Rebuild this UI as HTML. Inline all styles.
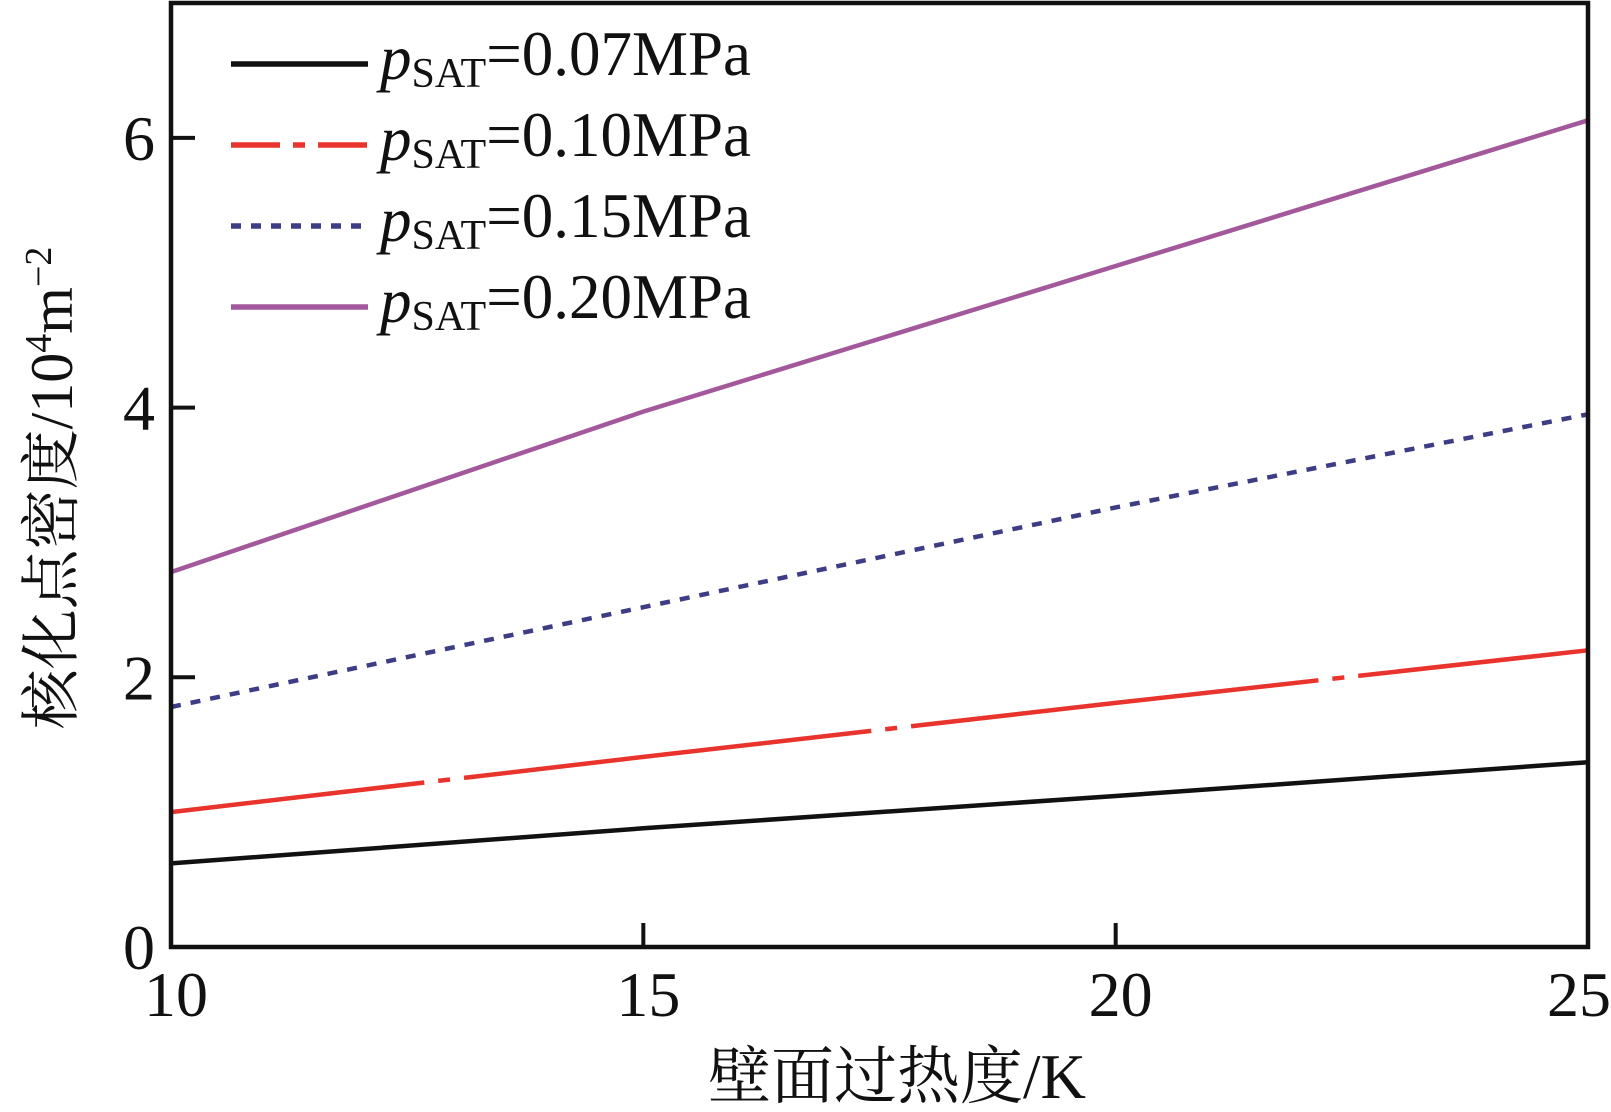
<!DOCTYPE html>
<html><head><meta charset="utf-8"><style>
html,body{margin:0;padding:0;background:#fff;}
svg{display:block;font-family:"Liberation Serif","Noto Serif CJK SC",serif;}
</style></head><body>
<svg id="chart" width="1611" height="1112" viewBox="0 0 1611 1112">
<g id="plot"></g>
</svg>
<script>
const categories = [10, 15, 20, 25];
const series007 = [0.62, 0.88, 1.12, 1.37];
const series010 = [1.0, 1.41, 1.81, 2.2];
const series015 = [1.78, 2.52, 3.26, 3.95];
const series020 = [2.78, 3.97, 5.05, 6.13];
const xTicks = [10, 15, 20, 25];
const yTicks = [0, 2, 4, 6];
const legendLabels = ["0.07MPa", "0.10MPa", "0.15MPa", "0.20MPa"];

const NS = "http://www.w3.org/2000/svg";
const X0 = 171, X1 = 1588, Y0 = 947, Y1 = 3;
const xs = v => X0 + (v - 10) / 15 * (X1 - X0);
const ys = v => Y0 - v / 7 * (Y0 - Y1);
const g = document.getElementById('plot');
function mk(tag, attrs, parent) {
  const e = document.createElementNS(NS, tag);
  for (const k in attrs) e.setAttribute(k, attrs[k]);
  (parent || g).appendChild(e);
  return e;
}
const styles = [
  {color:"#111111", dash:null, legendDash:null, data:series007, name:"series-0-07mpa"},
  {color:"#e8342c", dash:"410 14 12 14", offset:155, legendDash:"49 13 12 13", data:series010, name:"series-0-10mpa"},
  {color:"#3d3c84", dash:"10 10", legendDash:"10 10", data:series015, name:"series-0-15mpa"},
  {color:"#a3589b", dash:null, legendDash:null, data:series020, name:"series-0-20mpa"}
];
styles.forEach(s => {
  const pts = categories.map((c,i) => xs(c).toFixed(1) + "," + ys(s.data[i]).toFixed(1)).join(" ");
  const pl = mk('polyline', {points: pts, fill:"none", stroke:s.color, "stroke-width":4.5});
  if (s.dash) pl.setAttribute('stroke-dasharray', s.dash);
  if (s.offset) pl.setAttribute('stroke-dashoffset', s.offset);
  
  
});
const fr = mk('rect', {x:X0, y:Y1, width:X1-X0, height:Y0-Y1, fill:"none", stroke:"#111", "stroke-width":4.5});


yTicks.forEach(t => {
  const y = ys(t);
  if (t > 0) {
    const tk = mk('line', {x1:X0, x2:X0+24, y1:y, y2:y, stroke:"#111", "stroke-width":4});
    
    
  }
  const tx = mk('text', {x:155, y:y+22, "text-anchor":"end", "font-size":64, fill:"#111"});
  tx.textContent = t;
  
  
});
xTicks.forEach((t, i) => {
  const x = xs(t);
  if (i > 0 && i < xTicks.length - 1) {
    const tk = mk('line', {x1:x, x2:x, y1:Y0, y2:Y0-24, stroke:"#111", "stroke-width":4});
    
    
  }
  const last = i === xTicks.length - 1;
  const tx = mk('text', {x: last ? 1611 : x + 5, y:1016, "text-anchor": last ? "end" : "middle", "font-size":64, fill:"#111"});
  tx.textContent = t;
  
  
});
styles.forEach((s, i) => {
  const ly = 64 + i * 81;
  const ln = mk('line', {x1:231, x2:368, y1:ly, y2:ly, stroke:s.color, "stroke-width":5.5});
  if (s.legendDash) ln.setAttribute('stroke-dasharray', s.legendDash);
  
  
  const tx = mk('text', {x:380, y:ly+11, "font-size":63, fill:"#111"});
  tx.innerHTML = '<tspan font-style="italic" dy="4">p</tspan><tspan font-size="42" dy="8">SAT</tspan><tspan dy="-12">=' + legendLabels[i] + '</tspan>';
  
  
});
const yt = mk('text', {transform:"translate(72,488) rotate(-90)", "text-anchor":"middle", "font-size":60, fill:"#111"});
yt.innerHTML = '核化点密度/10<tspan font-size="38" dy="-21">4</tspan><tspan dy="21">m</tspan><tspan font-size="38" dy="-21">−2</tspan>';


const xt = mk('text', {x:897, y:1098, "text-anchor":"middle", "font-size":63, fill:"#111"});
xt.textContent = '壁面过热度/K';


</script>
</body></html>
